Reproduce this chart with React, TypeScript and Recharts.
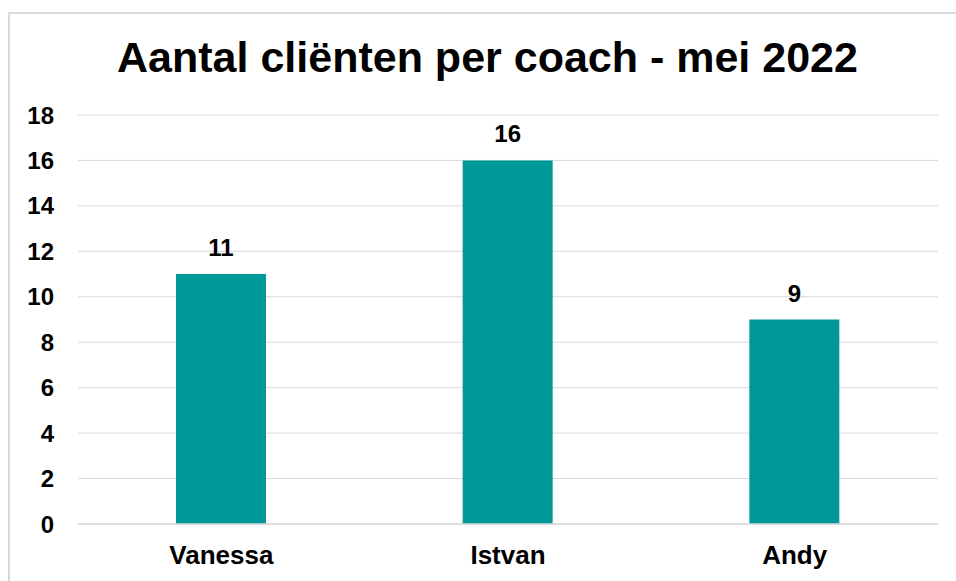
import React from "react";
import { BarChart, Bar, XAxis, YAxis, CartesianGrid, LabelList } from "recharts";

const coaches = ["Vanessa", "Istvan", "Andy"];
const clients = [11, 16, 9];
const yTicks = [0, 2, 4, 6, 8, 10, 12, 14, 16, 18];
const title = "Aantal cliënten per coach - mei 2022";

const data = coaches.map((name, i) => ({ name, value: clients[i] }));

const FONT = '"Liberation Sans", Arial, sans-serif';

export default function App() {
  return (
    <div style={{ position: "fixed", left: 0, top: 0, width: 956, height: 581, overflow: "hidden", background: "#fff" }}>
      <div
        style={{
          position: "absolute",
          left: 8,
          top: 12,
          width: 1100,
          height: 800,
          border: "2px solid #d9d9d9",
          boxSizing: "border-box",
        }}
      />
      <div style={{ position: "absolute", left: 0, top: 0 }}>
        <BarChart
          width={956}
          height={581}
          data={data}
          margin={{ top: 115, right: 18, bottom: 27, left: 0 }}
        >
          <CartesianGrid vertical={false} stroke="#d9d9d9" strokeWidth={1} />
          <XAxis
            dataKey="name"
            height={30}
            tickLine={false}
            tickSize={0}
            tickMargin={22}
            axisLine={{ stroke: "#d9d9d9", strokeWidth: 1.5 }}
            tick={{ fill: "#000", fontSize: 26, fontWeight: "bold", fontFamily: FONT }}
            interval={0}
          />
          <YAxis
            width={78}
            domain={[0, 18]}
            ticks={yTicks}
            tickLine={false}
            axisLine={false}
            tickSize={0}
            tickMargin={24}
            tick={{ fill: "#000", fontSize: 24, fontWeight: "bold", fontFamily: FONT }}
            interval={0}
          />
          <Bar dataKey="value" fill="#009999" barSize={90} isAnimationActive={false}>
            <LabelList
              dataKey="value"
              position="top"
              offset={18}
              style={{ fill: "#000", fontSize: 24, fontWeight: "bold", fontFamily: FONT }}
            />
          </Bar>
        </BarChart>
      </div>
      <svg style={{ position: "absolute", left: 0, top: 0 }} width={956} height={100}>
        <text
          x={487.5}
          y={72}
          textAnchor="middle"
          style={{ fill: "#000", fontSize: 43, fontWeight: "bold", fontFamily: FONT }}
        >
          {title}
        </text>
      </svg>
    </div>
  );
}
